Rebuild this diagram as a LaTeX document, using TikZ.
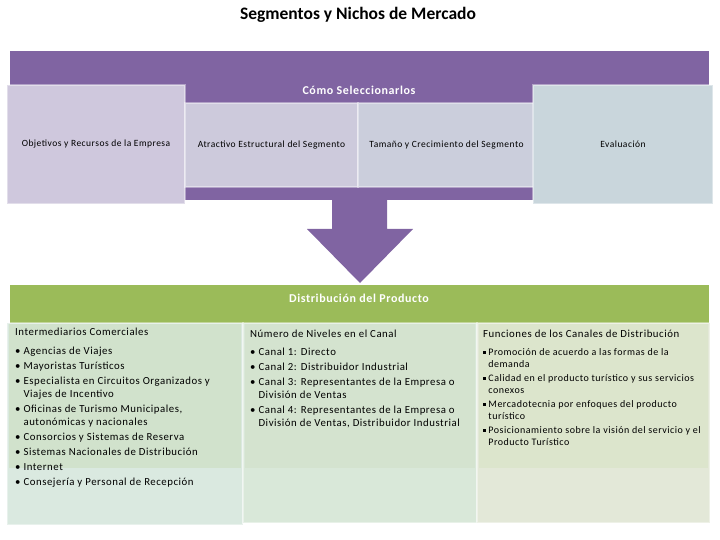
\documentclass[tikz,border=0pt]{standalone}
\usepackage{fontspec}
\setmainfont{Carlito}
\newfontfamily\ancha[LetterSpace=5]{Carlito}
\definecolor{morado}{HTML}{8064A2}
\definecolor{lila1}{HTML}{CFC8DD}
\definecolor{lila2}{HTML}{CDCADC}
\definecolor{lila3}{HTML}{CBCEDC}
\definecolor{gris4}{HTML}{C9D6DC}
\definecolor{verde}{HTML}{9BBB59}
\definecolor{verdeA}{HTML}{D1E2CC}
\definecolor{verdeB}{HTML}{D4E3CF}
\definecolor{verdeC}{HTML}{DCE5CC}
\definecolor{bajoA}{HTML}{DAE9E0}
\definecolor{bajoB}{HTML}{D9E8D9}
\definecolor{bajoC}{HTML}{E3E8D8}
\newcommand{\cuadrito}{\rule[1.5pt]{2.5pt}{2.5pt}}
\begin{document}
\begin{tikzpicture}[x=1pt,y=-1pt,
  caja/.style={draw=white,draw opacity=0.4,line width=2pt,inner sep=0pt,font=\ancha\fontsize{9.5}{11}\selectfont},
  texto/.style={anchor=north west,align=left,inner sep=0pt,font=\ancha\fontsize{10.8}{13}\selectfont}]
\useasboundingbox (0,0) rectangle (720,540);
\node[font=\fontsize{17.5}{20}\selectfont\bfseries] (titulo) at (358,15) {Segmentos y Nichos de Mercado};
% banda morada y flecha
\fill[morado] (10,51) rectangle (709,200);
\fill[morado] (332,199) -- (387,199) -- (387,229) -- (413,229) -- (360,283) -- (307,229) -- (332,229) -- cycle;
\node[white,font=\ancha\fontsize{12}{14}\selectfont\bfseries] (como) at (359,90) {Cómo Seleccionarlos};
\node[caja,fill=lila1,minimum width=178pt,minimum height=119pt] (objetivos) at (96,144.5) {Objetivos y Recursos de la Empresa};
\node[caja,fill=lila2,minimum width=173pt,minimum height=84pt] (atractivo) at (271.5,145) {Atractivo Estructural del Segmento};
\node[caja,fill=lila3,minimum width=177pt,minimum height=84pt] (tamano) at (446.5,145) {Tamaño y Crecimiento del Segmento};
\node[caja,fill=gris4,minimum width=180pt,minimum height=119pt] (evaluacion) at (623,144.5) {Evaluación};
% banda verde
\fill[verde] (10,285) rectangle (709,324);
\node[white,font=\ancha\fontsize{12}{14}\selectfont\bfseries] (distribucion) at (359,298) {Distribución del Producto};
\node[caja,fill=bajoA,minimum width=236pt,minimum height=202pt] (colA) at (125,424) {};
\node[caja,fill=bajoB,minimum width=234pt,minimum height=200pt] (colB) at (360,423) {};
\node[caja,fill=bajoC,minimum width=233pt,minimum height=200pt] (colC) at (593.5,423) {};
\fill[verdeA] (9,324) rectangle (241,468);
\fill[verdeB] (245,324) rectangle (475,468);
\fill[verdeC] (479,324) rectangle (708,468);
\node[texto] (intermediarios) at (15,328) {Intermediarios Comerciales\\[6pt]
\textbullet\ Agencias de Viajes\\[2pt]
\textbullet\ Mayoristas Turísticos\\[2pt]
\textbullet\ Especialista en Circuitos Organizados y\\
\hphantom{\textbullet\ }Viajes de Incentivo\\[2pt]
\textbullet\ Oficinas de Turismo Municipales,\\
\hphantom{\textbullet\ }autonómicas y nacionales\\[2pt]
\textbullet\ Consorcios y Sistemas de Reserva\\[2pt]
\textbullet\ Sistemas Nacionales de Distribución\\[2pt]
\textbullet\ Internet\\[2pt]
\textbullet\ Consejería y Personal de Recepción};
\node[texto] (niveles) at (250,330) {Número de Niveles en el Canal\\[5pt]
\textbullet\ Canal 1: Directo\\[2pt]
\textbullet\ Canal 2: Distribuidor Industrial\\[2pt]
\textbullet\ Canal 3: Representantes de la Empresa o\\
\hphantom{\textbullet\ }División de Ventas\\[2pt]
\textbullet\ Canal 4: Representantes de la Empresa o\\
\hphantom{\textbullet\ }División de Ventas, Distribuidor Industrial};
\node[texto] (funciones) at (483,330) {Funciones de los Canales de Distribución};
\node[texto,font=\ancha\fontsize{10}{12}\selectfont] (funlista) at (483,348) {\cuadrito\ Promoción de acuerdo a las formas de la\\
\hphantom{\cuadrito\ }demanda\\[2pt]
\cuadrito\ Calidad en el producto turístico y sus servicios\\
\hphantom{\cuadrito\ }conexos\\[2pt]
\cuadrito\ Mercadotecnia por enfoques del producto\\
\hphantom{\cuadrito\ }turístico\\[2pt]
\cuadrito\ Posicionamiento sobre la visión del servicio y el\\
\hphantom{\cuadrito\ }Producto Turístico};
\end{tikzpicture}
\end{document}
